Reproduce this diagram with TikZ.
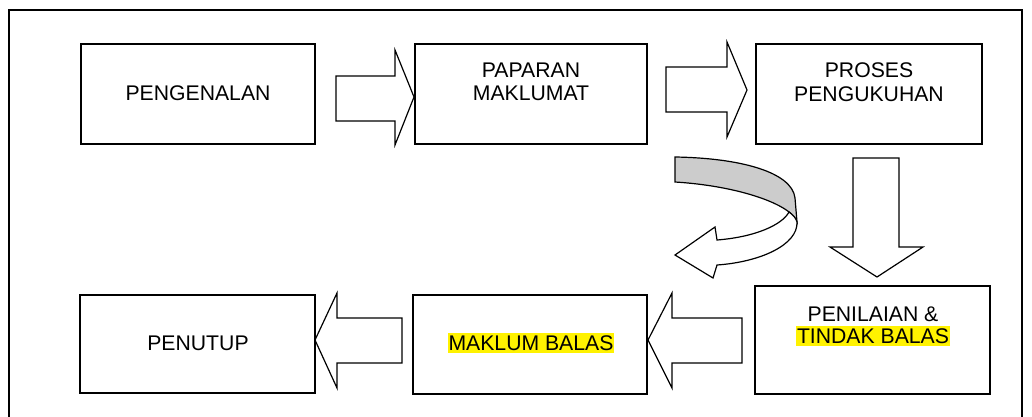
\documentclass[tikz,border=0pt]{standalone}
\usepackage{fontspec}
\setmainfont{Liberation Sans}
\begin{document}
\begin{tikzpicture}[x=1pt,y=-1pt,
  box/.style={draw=black,line width=1.4pt,fill=white},
  blk/.style={draw=black,line width=1.2pt,fill=white,line join=miter},
  lbl/.style={font=\fontsize{21.2}{23.5}\selectfont,align=center,inner sep=0pt},
  hl/.style={fill=yellow,inner xsep=1pt,inner ysep=2.5pt}]
\useasboundingbox (0,0) rectangle (1032,416);
\clip (0,0) rectangle (1032,416);
\draw[line width=1.4pt] (9,10) rectangle (1022,440);
% boxes
\draw[box] (81,44) rectangle (315,144);
\draw[box] (415,44) rectangle (647,144);
\draw[box] (756,44) rectangle (982,144);
\draw[box] (80,295) rectangle (315,393);
\draw[box] (413,295) rectangle (647,394);
\draw[box] (755,286) rectangle (990,394);
% labels
\node[lbl] (t1) at (198,93) {PENGENALAN};
\node[lbl] (t2) at (531,82) {PAPARAN\\MAKLUMAT};
\node[lbl] (t3) at (869,82) {PROSES\\PENGUKUHAN};
\node[lbl] (t4) at (198,343) {PENUTUP};
\node[lbl,hl] (t5) at (531,343) {MAKLUM BALAS};
\node[lbl] (t6a) at (873,314) {PENILAIAN \&};
\node[lbl,hl] (t6b) at (873,336) {TINDAK BALAS};
% block arrows
\draw[blk] (336,76) -- (395,76) -- (395,50) -- (414,97) -- (395,145) -- (395,121) -- (336,121) -- cycle;
\draw[blk] (666,67) -- (727,67) -- (727,42) -- (747,90) -- (727,137) -- (727,112) -- (666,112) -- cycle;
\draw[blk] (402,318) -- (337,318) -- (337,293) -- (315,340) -- (337,388) -- (337,363) -- (402,363) -- cycle;
\draw[blk] (742,318) -- (672,318) -- (672,293) -- (648,340) -- (672,388) -- (672,363) -- (742,363) -- cycle;
\draw[blk] (853,158) -- (899,158) -- (899,247) -- (923,247) -- (877,277) -- (830,247) -- (853,247) -- cycle;
% curved arrow
\draw[blk,fill=black!20] (675,157) .. controls (740,158) and (792,172) .. (795,198)
  -- (797,222) .. controls (792,205) and (740,186) .. (675,182) -- cycle;
\draw[blk] (797,222) .. controls (798,245) and (760,262) .. (717,265)
  -- (713,278) -- (675,255) -- (715,227) -- (717,240)
  .. controls (755,237) and (782,225) .. (789,212) .. controls (793,215) and (796,218) .. (797,222) -- cycle;
\end{tikzpicture}
\end{document}
